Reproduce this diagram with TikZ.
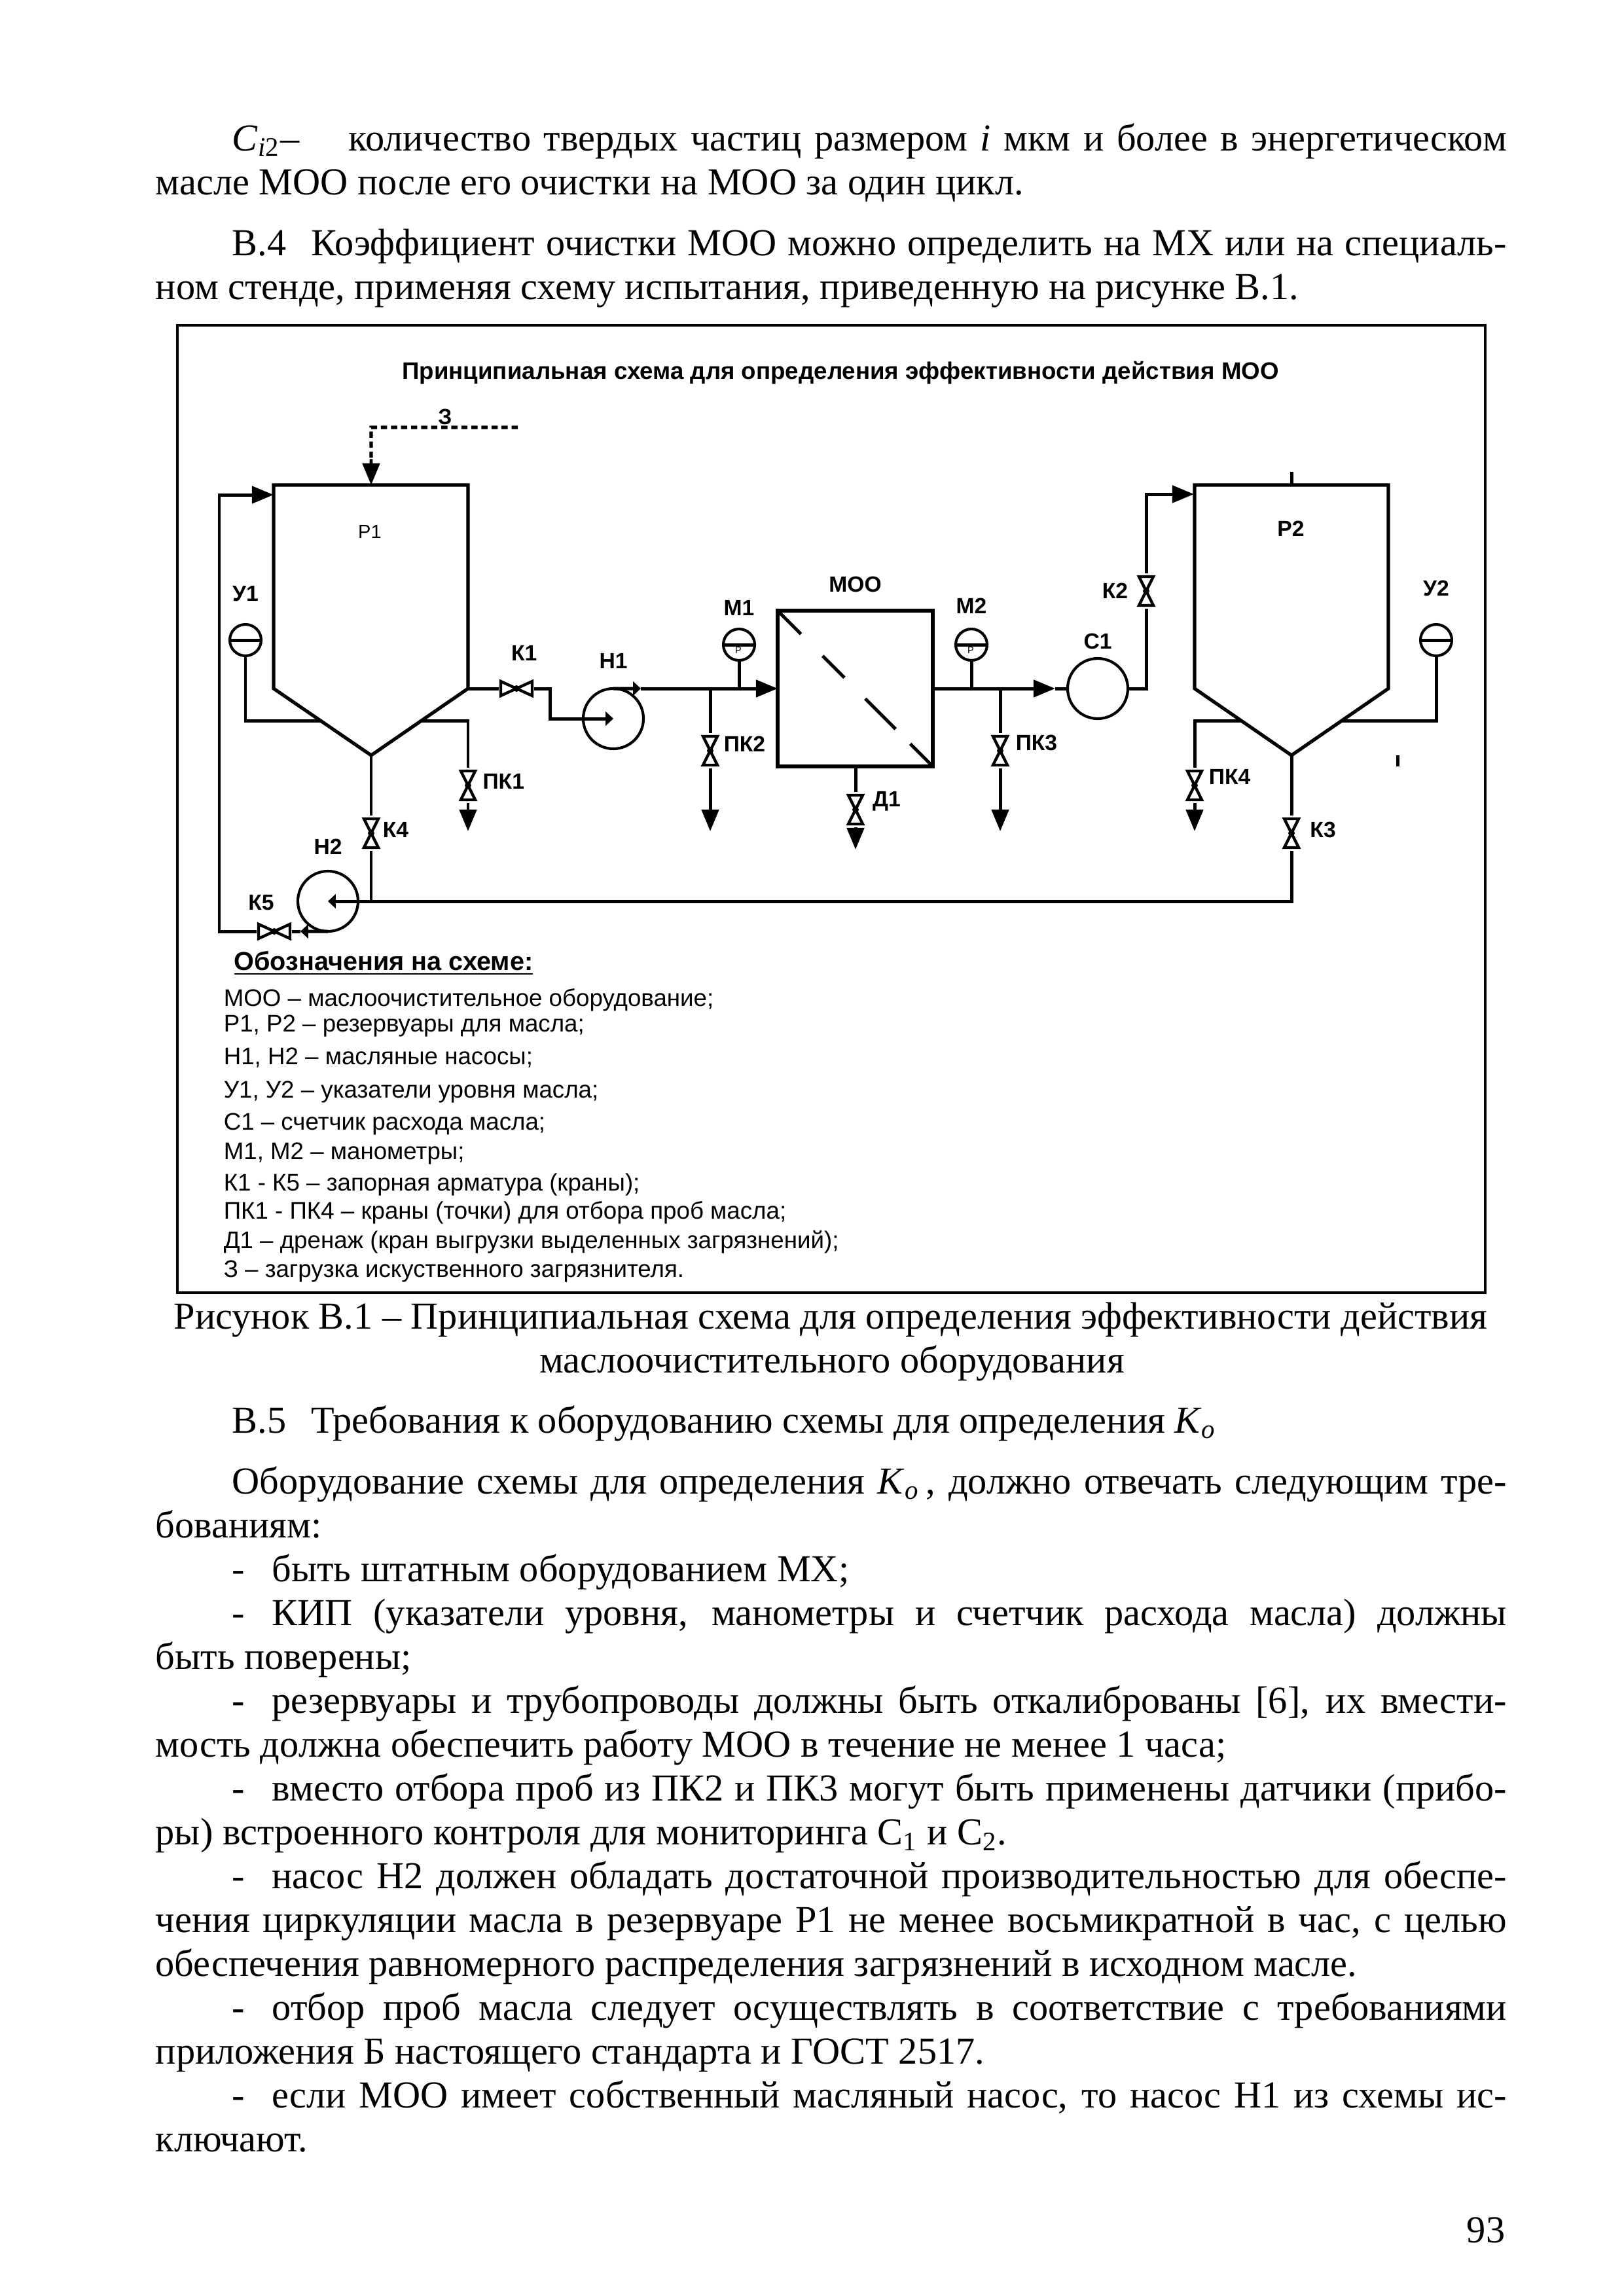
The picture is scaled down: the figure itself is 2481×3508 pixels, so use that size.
\documentclass[tikz,border=0pt]{standalone}
\usepackage{fontspec}
\setmainfont{Liberation Serif}
\setsansfont{Liberation Sans}
\usetikzlibrary{positioning,arrows.meta,calc}
\newdimen\pxu
\pxu=0.2409pt
\newcommand{\jind}[1]{\makebox[1947\pxu][s]{#1}}
\newcommand{\jfull}[1]{\makebox[2064\pxu][s]{#1}}
\newcommand{\kzero}{\textit{K}\textsubscript{\textit{o}}}
\tikzset{
  pline/.style={anchor=base west,inner sep=0pt,font=\fontsize{14.05}{16}\selectfont},
  cline/.style={pline,anchor=base},
  lab/.style={inner sep=0pt,font=\sffamily\bfseries\fontsize{8.1}{9}\selectfont},
  plab/.style={inner sep=0pt,font=\sffamily\fontsize{7}{8}\selectfont},
  heading/.style={anchor=base,inner sep=0pt,font=\sffamily\bfseries\fontsize{9.55}{11}\selectfont},
  legend/.style={anchor=base west,inner sep=0pt,font=\sffamily\fontsize{8.84}{10}\selectfont},
  frame/.style={draw,line width=0.9pt},
  tank/.style={draw,line width=1.25pt,line join=miter},
  pipe/.style={line width=1.2pt},
  arr/.style={-{Triangle[length=2.8mm,width=2.2mm]},line width=1.2pt},
  sarr/.style={-{Triangle[length=1mm,width=1.8mm]},line width=1.2pt},
  zagr/.style={line width=1.3pt,dash pattern=on 0.8mm off 0.5mm},
  pump/.style={circle,draw,line width=1pt,minimum size=7.79mm,inner sep=0pt,outer sep=0pt},
  gauge/.style={circle,draw,line width=1pt,minimum size=4.06mm,inner sep=0pt,outer sep=0pt},
  valveh/.style={rectangle,inner sep=0pt,minimum width=5.59mm,minimum height=2.88mm,outer xsep=-0.51mm,outer ysep=0pt,
    path picture={\begin{scope}[shift={(path picture bounding box.center)}]
      \draw[line width=1.05pt,fill=white] (-24,-11) -- (24,11) -- (24,-11) -- (-24,11) -- cycle;
      \fill (0,0) circle[radius=5];
    \end{scope}}},
  valvev/.style={rectangle,inner sep=0pt,minimum width=2.88mm,minimum height=5.59mm,outer ysep=-0.51mm,outer xsep=0pt,
    path picture={\begin{scope}[shift={(path picture bounding box.center)}]
      \draw[line width=1.05pt,fill=white] (-11,-22) -- (11,22) -- (-11,22) -- (11,-22) -- cycle;
      \fill (0,0) circle[radius=5];
    \end{scope}}}}
\begin{document}
\begin{tikzpicture}[x=0.2409pt,y=-0.2409pt]
\useasboundingbox (0,0) rectangle (2481,3508);
\node[pline] (t1) at (354,230) {\jind{\textit{C}\textsubscript{\textit{i}2}–\hspace{6.4mm}количество твердых частиц размером \textit{i} мкм и более в энергетическом}};
\node[pline] (t2) at (237,297) {масле МОО после его очистки на МОО за один цикл.};
\node[pline] (t3) at (354,390) {\jind{В.4\hspace{3.2mm}Коэффициент очистки МОО можно определить на МХ или на специаль-}};
\node[pline] (t4) at (237,457) {ном стенде, применяя схему испытания, приведенную на рисунке В.1.};
\draw[frame] (271,497) rectangle (2269,1975);
\node[font=\sffamily\bfseries\fontsize{8.84}{10}\selectfont,inner sep=0pt] (title) at (1284,570) {Принципиальная схема для определения эффективности действия МОО};
\coordinate (p1in) at (418,756);
\coordinate (p1top) at (567,741);
\coordinate (p1out) at (715,1052);
\coordinate (p1bot) at (567,1154);
\coordinate (p1lv) at (490,1101);
\coordinate (p1rs) at (643,1101);
\coordinate (p2in) at (1824,755);
\coordinate (p2top) at (1973,741);
\coordinate (p2stub) at (1973,721);
\coordinate (p2bot) at (1973,1154);
\coordinate (p2ls) at (1896,1101);
\coordinate (p2rv) at (2050,1101);
\draw[tank] (418,741) -- (715,741) -- (715,1052) -- (567,1154) -- (418,1052) -- cycle;
\draw[tank] (1825,741) -- (2121,741) -- (2121,1052) -- (1973,1154) -- (1825,1052) -- cycle;
\node[plab] (p1) at (565,812) {Р1};
\node[lab] (p2) at (1972,808) {Р2};
\node[draw,line width=1.25pt,rectangle,inner sep=0pt,outer sep=0pt,minimum width=20.07mm,minimum height=20.15mm] (moo) at (1306.5,1052) {};
\draw[pipe] (moo.north west) -- ($(moo.north west)!0.15!(moo.south east)$);
\draw[pipe] ($(moo.north west)!0.29!(moo.south east)$) -- ($(moo.north west)!0.43!(moo.south east)$);
\draw[pipe] ($(moo.north west)!0.565!(moo.south east)$) -- ($(moo.north west)!0.76!(moo.south east)$);
\draw[pipe] ($(moo.north west)!0.855!(moo.south east)$) -- (moo.south east);
\node[pump] (h1) at (937,1098) {};
\node[pump] (h2) at (501,1377) {};
\node[pump] (c1) at (1677,1052) {};
\node[gauge] (u1) at (375,978) {};
\node[gauge] (u2) at (2194,978) {};
\node[gauge] (m1) at (1129,985) {};
\node[gauge] (m2) at (1484,985) {};
\node[valveh] (k1) at (789,1052) {};
\node[valvev] (k2) at (1751,903) {};
\node[valvev] (k3) at (1973,1273) {};
\node[valvev] (k4) at (567,1273) {};
\node[valveh] (k5) at (419,1423) {};
\node[valvev] (pk1) at (715,1200) {};
\node[valvev] (pk2) at (1085,1147) {};
\node[valvev] (pk3) at (1528,1147) {};
\node[valvev] (pk4) at (1825,1200) {};
\node[valvev] (d1) at (1307,1237) {};
\node[lab, above=2.9mm of u1] (lu1) {У1};
\node[lab, above=3.6mm of u2] (lu2) {У2};
\node[lab, above=1.7mm of m1] (lm1) {М1};
\node[lab, above=1.9mm of m2] (lm2) {М2};
\node[lab, above=1.1mm of c1] (lc1) {С1};
\node[lab, above=2.5mm of h1] (lh1) {Н1};
\node[lab, above=2.1mm of h2] (lh2) {Н2};
\node[lab, above=2.3mm of moo] (lmoo) {МОО};
\node[lab, above=2.1mm of k1, xshift=1mm] (lk1) {К1};
\node[lab, left=0.85mm of k2] (lk2) {К2};
\node[lab, right=0.9mm of k3, yshift=0.4mm] (lk3) {К3};
\node[lab, right=0mm of k4, yshift=0.4mm] (lk4) {К4};
\node[lab, above=1.2mm of k5, xshift=-1.7mm] (lk5) {К5};
\node[lab, right=0.4mm of pk1, yshift=0.5mm] (lpk1) {ПК1};
\node[lab, right=0.25mm of pk2, yshift=0.9mm] (lpk2) {ПК2};
\node[lab, right=0.5mm of pk3, yshift=1mm] (lpk3) {ПК3};
\node[lab, right=0.35mm of pk4, yshift=1.1mm] (lpk4) {ПК4};
\node[lab, right=0.7mm of d1, yshift=1.1mm] (ld1) {Д1};
\node[lab] (lz) at (680,637) {З};
\node[inner sep=0pt,font=\sffamily\fontsize{3.5}{4}\selectfont] (pm1) at (1128,993) {Р};
\node[inner sep=0pt,font=\sffamily\fontsize{3.5}{4}\selectfont] (pm2) at (1483,993) {Р};
\coordinate (zend) at (791,653);
\coordinate (zbend) at (567,653);
\draw[zagr] (zend) -- (zbend) -- ($(zbend)!0.55!(p1top)$);
\draw[arr] ($(zbend)!0.55!(p1top)$) -- (p1top);
\draw[pipe] (u1.west) -- (u1.east);
\draw[pipe] (u2.west) -- (u2.east);
\draw[pipe] (m1.west) -- (m1.east);
\draw[pipe] (m2.west) -- (m2.east);
\draw[pipe] (u1.south) |- (p1lv);
\draw[pipe] (u2.south) |- (p2rv);
\draw[pipe] (p1out) -- (k1.west);
\coordinate (h1bend) at (840,1052);
\draw[sarr] (k1.east) -- (h1bend) -- (h1bend |- h1.center) -- (h1.center);
\coordinate (n1tip) at (979,1052);
\draw[sarr] (h1.north) -- (n1tip);
\draw[arr] (n1tip) -- (moo.west);
\draw[pipe] (m1.south) -- (m1 |- moo.west);
\draw[pipe] (pk2.north |- moo.west) -- (pk2.north);
\coordinate (pk2end) at (1085,1270);
\draw[arr] (pk2.south) -- (pk2end);
\draw[pipe] (m2.south) -- (m2 |- moo.east);
\draw[pipe] (pk3.north |- moo.east) -- (pk3.north);
\coordinate (pk3end) at (1528,1270);
\draw[arr] (pk3.south) -- (pk3end);
\coordinate (c1tip) at (1612,1052);
\draw[arr] (moo.east) -- (c1tip);
\draw[pipe] (c1tip) -- (c1.west);
\draw[pipe] (c1.east) -| (k2.south);
\draw[arr] (k2.north) |- (p2in);
\draw[pipe] (p2top) -- (p2stub);
\draw[pipe] (d1.north |- moo.south) -- (d1.north);
\coordinate (d1end) at (1307,1298);
\draw[arr] (d1.south) -- (d1end);
\draw[pipe] (p1rs) -| (pk1.north);
\coordinate (pk1end) at (715,1270);
\draw[arr] (pk1.south) -- (pk1end);
\draw[pipe] (p2ls) -| (pk4.north);
\coordinate (pk4end) at (1825,1270);
\draw[arr] (pk4.south) -- (pk4end);
\draw[pipe] (p1bot) -- (k4.north);
\draw[pipe] (k4.south) -- (k4 |- h2);
\draw[pipe] (p2bot) -- (k3.north);
\draw[sarr] (k3.south) |- (h2.center);
\coordinate (n2tip) at (459,1423);
\draw[sarr] (h2.south) -- (n2tip);
\draw[pipe] (n2tip) -- (k5.east);
\coordinate (loopb) at (335,1423);
\coordinate (loopt) at (335,756);
\draw[arr] (k5.west) -- (loopb) -- (loopt) -- (p1in);
\coordinate (marka) at (2135,1154);
\coordinate (markb) at (2135,1171);
\draw[pipe] (marka) -- (markb);
\node[heading] (lhead) at (586,1482) {\underline{Обозначения на схеме:}};
\node[legend] (l1) at (341,1537) {МОО – маслоочистительное оборудование;};
\node[legend] (l2) at (341,1576) {Р1, Р2 – резервуары для масла;};
\node[legend] (l3) at (341,1626) {Н1, Н2 – масляные насосы;};
\node[legend] (l4) at (341,1677) {У1, У2 – указатели уровня масла;};
\node[legend] (l5) at (341,1726) {С1 – счетчик расхода масла;};
\node[legend] (l6) at (341,1771) {М1, М2 – манометры;};
\node[legend] (l7) at (341,1819) {К1 - К5 – запорная арматура (краны);};
\node[legend] (l8) at (341,1862) {ПК1 - ПК4 – краны (точки) для отбора проб масла;};
\node[legend] (l9) at (341,1907) {Д1 – дренаж (кран выгрузки выделенных загрязнений);};
\node[legend] (l10) at (341,1951) {З – загрузка искуственного загрязнителя.};
\node[cline] (c1t) at (1269,2030) {Рисунок В.1 – Принципиальная схема для определения эффективности действия};
\node[cline] (c2t) at (1271,2097) {маслоочистительного оборудования};
\node[pline] (t5) at (354,2189) {В.5\hspace{3.2mm}Требования к оборудованию схемы для определения \kzero};
\node[pline] (t6) at (354,2282) {\jind{Оборудование схемы для определения \kzero\,, должно отвечать следующим тре-}};
\node[pline] (t7) at (237,2349) {бованиям:};
\node[pline] (t8) at (354,2416) {-\hspace{3.5mm}быть штатным оборудованием МХ;};
\node[pline] (t9) at (354,2483) {\jind{-\hspace{3.5mm}КИП (указатели уровня, манометры и счетчик расхода масла) должны}};
\node[pline] (t10) at (237,2550) {быть поверены;};
\node[pline] (t11) at (354,2617) {\jind{-\hspace{3.5mm}резервуары и трубопроводы должны быть откалиброваны [6], их вмести-}};
\node[pline] (t12) at (237,2684) {мость должна обеспечить работу МОО в течение не менее 1 часа;};
\node[pline] (t13) at (354,2751) {\jind{-\hspace{3.5mm}вместо отбора проб из ПК2 и ПК3 могут быть применены датчики (прибо-}};
\node[pline] (t14) at (237,2818) {ры) встроенного контроля для мониторинга С\textsubscript{1} и С\textsubscript{2}.};
\node[pline] (t15) at (354,2885) {\jind{-\hspace{3.5mm}насос Н2 должен обладать достаточной производительностью для обеспе-}};
\node[pline] (t16) at (237,2952) {\jfull{чения циркуляции масла в резервуаре Р1 не менее восьмикратной в час, с целью}};
\node[pline] (t17) at (237,3019) {обеспечения равномерного распределения загрязнений в исходном масле.};
\node[pline] (t18) at (354,3086) {\jind{-\hspace{3.5mm}отбор проб масла следует осуществлять в соответствие с требованиями}};
\node[pline] (t19) at (237,3153) {приложения Б настоящего стандарта и ГОСТ 2517.};
\node[pline] (t20) at (354,3220) {\jind{-\hspace{3.5mm}если МОО имеет собственный масляный насос, то насос Н1 из схемы ис-}};
\node[pline] (t21) at (237,3287) {ключают.};
\node[pline,anchor=base east] (pnum) at (2300,3426) {93};
\end{tikzpicture}
\end{document}
